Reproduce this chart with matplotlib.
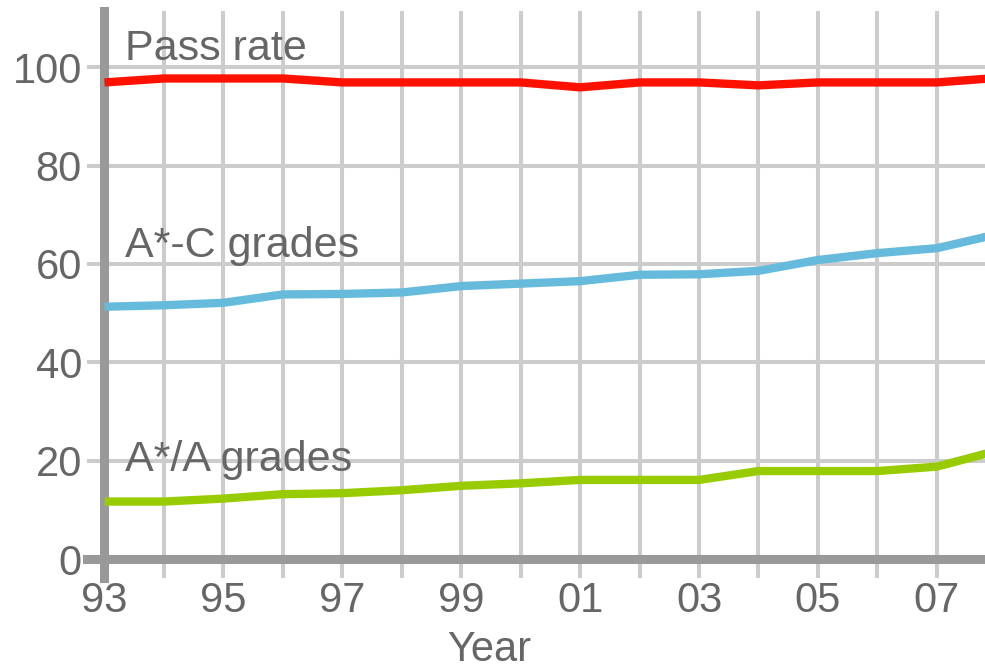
import matplotlib

matplotlib.use("Agg")
import matplotlib.pyplot as plt
import numpy as np

years = np.arange(1993, 2009)
pass_rate = [96.9, 97.7, 97.7, 97.7, 96.9, 96.9, 96.9, 96.9,
             95.9, 96.9, 96.9, 96.3, 96.9, 96.9, 96.9, 97.8]
a_to_c = [51.3, 51.6, 52.1, 53.8, 53.9, 54.2, 55.5, 56.0,
          56.5, 57.8, 57.9, 58.6, 60.8, 62.2, 63.2, 66.0]
a_star_a = [11.7, 11.7, 12.3, 13.2, 13.4, 14.0, 14.9, 15.4,
            16.1, 16.1, 16.1, 17.9, 17.9, 17.9, 18.8, 22.0]
tick_years = [1993, 1995, 1997, 1999, 2001, 2003, 2005, 2007]
tick_labels = ["93", "95", "97", "99", "01", "03", "05", "07"]
y_ticks = [0, 20, 40, 60, 80, 100]

plt.rcParams["font.family"] = ["Liberation Sans", "DejaVu Sans"]
text_col = "#666666"
grid_col = "#cccccc"
axis_col = "#999999"

fig = plt.figure(figsize=(9.85, 6.72), dpi=100)
ax = fig.add_axes([0.106, 0.168, 0.894, 0.8155])

# the three series
ax.plot(years, pass_rate, color="#ff1100", lw=6, solid_capstyle="butt", zorder=3)
ax.plot(years, a_to_c, color="#66bbdd", lw=6, solid_capstyle="butt", zorder=3)
ax.plot(years, a_star_a, color="#99cc00", lw=6, solid_capstyle="butt", zorder=3)

ax.set_xlim(1993, 2007.81)
ax.set_ylim(0, 111.4)

ax.set_xticks(np.arange(1993, 2008))
ax.set_xticklabels([tick_labels[tick_years.index(y)] if y in tick_years else ""
                    for y in range(1993, 2008)])
ax.set_yticks(y_ticks)
ax.grid(True, color=grid_col, lw=2.9)
ax.set_axisbelow(True)

ax.tick_params(axis="x", length=13.5, width=2.9, color=grid_col, pad=2,
               labelsize=30, labelcolor=text_col)
ax.tick_params(axis="y", length=12.6, width=2.9, color=grid_col, pad=3.6,
               labelsize=30, labelcolor=text_col)

for s in ["top", "right"]:
    ax.spines[s].set_visible(False)
for s in ["left", "bottom"]:
    ax.spines[s].set_color(axis_col)
    ax.spines[s].set_linewidth(6.5)
ax.spines["bottom"].set_bounds(1992.7, 2007.81)
ax.spines["left"].set_bounds(-3.9, 111.4)

ax.text(1993.35, 101.5, "Pass rate", fontsize=31, color=text_col, va="baseline")
ax.text(1993.35, 61.5, "A*-C grades", fontsize=31, color=text_col, va="baseline")
ax.text(1993.35, 18.0, "A*/A grades", fontsize=31, color=text_col, va="baseline")

fig.text(489 / 985, 1 - 650 / 672, "Year", fontsize=30, color=text_col,
         ha="center", va="center")

fig.savefig("out.png", dpi=100)
